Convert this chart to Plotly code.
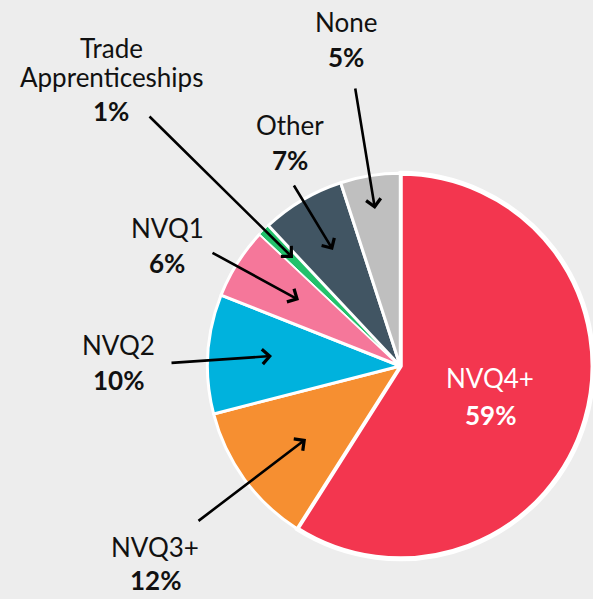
import plotly.graph_objects as go

labels = ["NVQ4+", "NVQ3+", "NVQ2", "NVQ1", "Trade Apprenticeships", "Other", "None"]
values = [59, 12, 10, 6, 1, 7, 5]
colors = ["#F3364F", "#F68F31", "#00B2DD", "#F5779A", "#23C16B", "#415563", "#BFBFBF"]
line_widths = [5, 3, 3, 3, 1, 3, 3]

# label placement in pixels (name line centres, percent centre, arrow tail, arrow head)
name_lines = [["NVQ4+"], ["NVQ3+"], ["NVQ2"], ["NVQ1"], ["Trade", "Apprenticeships"], ["Other"], ["None"]]
name_xy = [(490, 378), (155, 547), (118, 345), (167, 228), (111, 48), (290, 125), (346, 22)]
pct_xy = [(490, 415), (155, 580), (118, 380), (167, 263), (111, 111), (290, 160), (346, 57)]
arrows = [None, ((197, 522), (306, 439)), ((170, 363), (272, 356)), ((211, 252), (299, 300)),
          ((148, 115), (293, 258)), ((293, 184), (333, 250)), ((355, 87), (375, 209))]

W, H = 593, 599
bg = "#EDEDED"
font = "Lato"

fig = go.Figure()
fig.add_trace(go.Pie(
    labels=labels, values=values, sort=False, direction="clockwise", rotation=0,
    marker=dict(colors=colors, line=dict(color="white", width=line_widths)),
    textinfo="none", hoverinfo="label+percent", showlegend=False,
    domain=dict(x=[0.35, 1.0], y=[0.0634, 0.7145]),
))

# invisible pixel-space axes for annotations
fig.add_trace(go.Scatter(x=[0, W], y=[0, H], mode="markers", marker=dict(opacity=0),
                         hoverinfo="skip", showlegend=False))

for i, lab in enumerate(labels):
    col = "white" if i == 0 else "#111111"
    for j, line in enumerate(name_lines[i]):
        fig.add_annotation(x=name_xy[i][0], y=name_xy[i][1] + 29 * j, xref="x", yref="y",
                           text=line, showarrow=False, borderpad=0,
                           font=dict(family=font, size=26, color=col))
    fig.add_annotation(x=pct_xy[i][0], y=pct_xy[i][1], xref="x", yref="y",
                       text="<b>%d%%</b>" % values[i], showarrow=False, borderpad=0,
                       font=dict(family=font, size=26, color=col))
    if arrows[i]:
        (tx, ty), (hx, hy) = arrows[i]
        fig.add_annotation(x=hx, y=hy, ax=tx, ay=ty, xref="x", yref="y",
                           axref="x", ayref="y", text="", showarrow=True,
                           arrowhead=4, arrowsize=1.1, arrowwidth=2.6,
                           arrowcolor="#000000", standoff=0, startstandoff=0)

fig.update_layout(
    width=W, height=H,
    margin=dict(l=0, r=0, t=0, b=0),
    paper_bgcolor=bg, plot_bgcolor=bg,
    xaxis=dict(range=[0, W], visible=False, fixedrange=True),
    yaxis=dict(range=[H, 0], visible=False, fixedrange=True),
)

fig.write_html(
    "out.html",
    config={"displayModeBar": False},
    post_script="document.body.style.margin='0';document.body.style.overflow='hidden';"
                "document.body.style.background='%s';" % bg,
)
